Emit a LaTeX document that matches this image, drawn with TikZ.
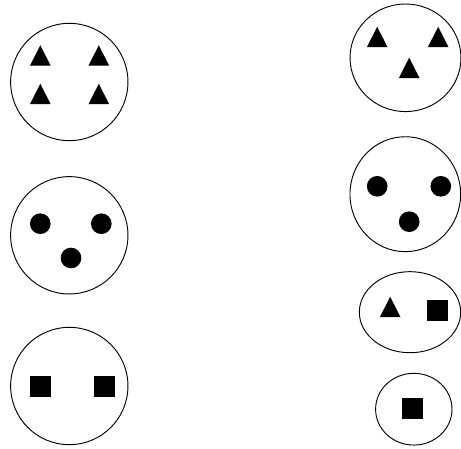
\documentclass[tikz,border=0pt]{standalone}
\usetikzlibrary{shapes.geometric}
\tikzset{
  bag/.style={ellipse, draw, line width=0.7pt, inner sep=0pt},
  tri/.style={isosceles triangle, isosceles triangle stretches, shape border rotate=90, fill=black, inner sep=0pt, minimum width=15.5pt, minimum height=15.3pt},
  dot/.style={circle, fill=black, inner sep=0pt, minimum size=15.5pt},
  box/.style={rectangle, fill=black, inner sep=0pt, minimum size=15.5pt}
}
\begin{document}
\begin{tikzpicture}[x=0.75pt, y=-0.75pt]
  \useasboundingbox (0,0) rectangle (461,449);

  % left column
  \node[bag, minimum width=88pt, minimum height=88pt] (bagA) at (69.3,82) {};
  \node[tri] (a1) at (40.3,59.3) {};
  \node[tri] (a2) at (98.8,59.3) {};
  \node[tri] (a3) at (40.3,97.8) {};
  \node[tri] (a4) at (98.8,97.8) {};

  \node[bag, minimum width=88pt, minimum height=88pt] (bagB) at (69.3,235.3) {};
  \node[dot] (b1) at (40.3,223.7) {};
  \node[dot] (b2) at (101.3,223.7) {};
  \node[dot] (b3) at (71,258) {};

  \node[bag, minimum width=88pt, minimum height=88pt] (bagC) at (69.3,386) {};
  \node[box] (c1) at (40.3,386.3) {};
  \node[box] (c2) at (104.7,386.3) {};

  % right column
  \node[bag, minimum width=83.2pt, minimum height=80.7pt] (bagD) at (405.5,57.8) {};
  \node[tri] (d1) at (377.2,40.8) {};
  \node[tri] (d2) at (438.2,40.8) {};
  \node[tri] (d3) at (409.2,71.7) {};

  \node[bag, minimum width=83pt, minimum height=86.2pt] (bagE) at (405.3,194.2) {};
  \node[dot] (e1) at (377.2,186.3) {};
  \node[dot] (e2) at (440.8,186.3) {};
  \node[dot] (e3) at (409.2,221.7) {};

  \node[bag, minimum width=76pt, minimum height=60.8pt] (bagF) at (410,312.2) {};
  \node[tri] (f1) at (390.2,310.8) {};
  \node[box] (f2) at (437.8,310.5) {};

  \node[bag, minimum width=57.3pt, minimum height=53.8pt] (bagG) at (413.8,409.2) {};
  \node[box] (g1) at (412.2,408.8) {};
\end{tikzpicture}
\end{document}
